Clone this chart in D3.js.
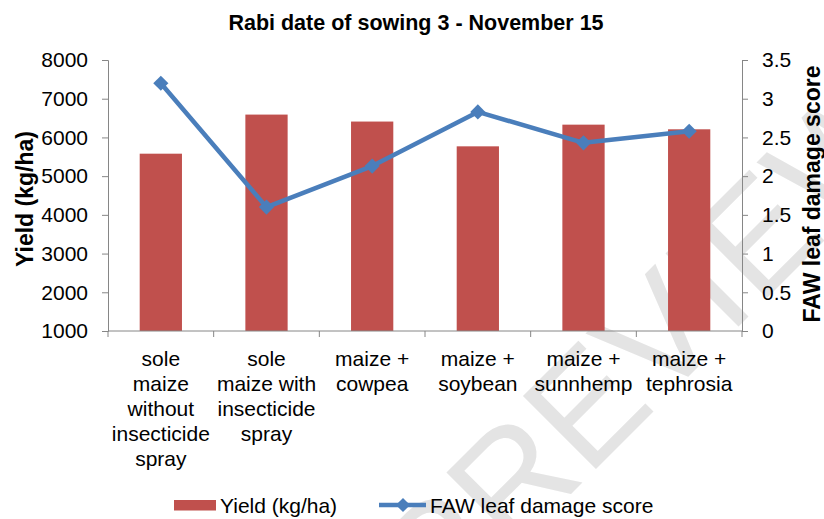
<!DOCTYPE html>
<html>
<head>
<meta charset="utf-8">
<script src="https://cdn.jsdelivr.net/npm/d3@7"></script>
<style>
  body { margin: 0; background: #fff; }
  text { font-family: "Liberation Sans", Arial, sans-serif; fill: #000; }
</style>
</head>
<body>
<div class="chart"></div>
<script>
// chart data
const categories = ["sole maize without insecticide spray", "sole maize with insecticide spray",
  "maize + cowpea", "maize + soybean", "maize + sunnhemp", "maize + tephrosia"];
const categoryLines = [
  ["sole", "maize", "without", "insecticide", "spray"],
  ["sole", "maize with", "insecticide", "spray"],
  ["maize +", "cowpea"],
  ["maize +", "soybean"],
  ["maize +", "sunnhemp"],
  ["maize +", "tephrosia"]
];
const yieldValues = [5580, 6590, 6410, 5770, 6330, 6210];
const damageValues = [3.2, 1.6, 2.13, 2.83, 2.43, 2.58];
const leftTicks = [1000, 2000, 3000, 4000, 5000, 6000, 7000, 8000];
const rightTicks = [0, 0.5, 1, 1.5, 2, 2.5, 3, 3.5];

const width = 824, height = 519;
const margin = {top: 60, right: 82, bottom: 188, left: 108};
const barColor = "#c0504d", lineColor = "#4a7ebb", axisColor = "#868686";

const svg = d3.select(".chart").append("svg")
  .attr("width", width)
  .attr("height", height);

// faint watermark behind everything
svg.append("text")
  .attr("transform", "translate(440,625) rotate(-45)")
  .attr("font-size", 150)
  .style("fill", "#e4e4e4")
  .text("PREVIEW");

const x = d3.scaleBand()
  .domain(categories)
  .range([margin.left, width - margin.right])
  .paddingInner(0.6)
  .paddingOuter(0.3);

const xOuter = d3.scaleBand()
  .domain(categories)
  .range([margin.left, width - margin.right]);

const yLeft = d3.scaleLinear()
  .domain([1000, 8000])
  .range([height - margin.bottom, margin.top]);

const yRight = d3.scaleLinear()
  .domain([0, 3.5])
  .range([height - margin.bottom, margin.top]);

// bars
svg.append("g").selectAll("rect")
  .data(yieldValues)
  .enter().append("rect")
  .attr("x", (d, i) => x(categories[i]))
  .attr("y", d => yLeft(d))
  .attr("width", x.bandwidth())
  .attr("height", d => yLeft(1000) - yLeft(d))
  .attr("fill", barColor);

// left axis
const gLeft = svg.append("g")
  .attr("transform", `translate(${margin.left},0)`)
  .call(d3.axisLeft(yLeft).tickValues(leftTicks).tickSize(6).tickPadding(14).tickFormat(d3.format("d")));

// right axis
const gRight = svg.append("g")
  .attr("transform", `translate(${width - margin.right},0)`)
  .call(d3.axisRight(yRight).tickValues(rightTicks).tickSize(6).tickPadding(14).tickFormat(d => d));

// bottom axis with ticks between categories
const gBottom = svg.append("g")
  .attr("transform", `translate(0,${height - margin.bottom})`);
gBottom.append("line")
  .attr("x1", margin.left).attr("x2", width - margin.right)
  .attr("stroke", axisColor);
gBottom.selectAll(".tk")
  .data(categories.concat(["end"]))
  .enter().append("line")
  .attr("class", "tk")
  .attr("x1", (d, i) => i < categories.length ? xOuter(d) : width - margin.right)
  .attr("x2", (d, i) => i < categories.length ? xOuter(d) : width - margin.right)
  .attr("y1", 0).attr("y2", 6)
  .attr("stroke", axisColor);

gBottom.selectAll(".cat")
  .data(categories)
  .enter().append("text")
  .attr("class", "cat")
  .attr("text-anchor", "middle")
  .attr("font-size", 21)
  .attr("transform", d => `translate(${xOuter(d) + xOuter.bandwidth() / 2},35)`)
  .each(function(d, i) {
    d3.select(this).selectAll("tspan")
      .data(categoryLines[i])
      .enter().append("tspan")
      .attr("x", 0)
      .attr("y", (t, j) => j * 25)
      .text(t => t);
  });

[gLeft, gRight].forEach(g => {
  g.select(".domain").attr("stroke", axisColor);
  g.selectAll(".tick line").attr("stroke", axisColor);
  g.selectAll(".tick text").attr("font-size", 21).style("font-family", "Liberation Sans, Arial, sans-serif");
});

// damage line
const cx = i => xOuter(categories[i]) + xOuter.bandwidth() / 2;
const line = d3.line()
  .x((d, i) => cx(i))
  .y(d => yRight(d));

svg.append("path")
  .datum(damageValues)
  .attr("d", line)
  .attr("fill", "none")
  .attr("stroke", lineColor)
  .attr("stroke-width", 4.5)
  .attr("stroke-linejoin", "round");

svg.append("g").selectAll("path")
  .data(damageValues)
  .enter().append("path")
  .attr("d", d3.symbol(d3.symbolSquare, 115))
  .attr("transform", (d, i) => `translate(${cx(i)},${yRight(d)}) rotate(45)`)
  .attr("fill", lineColor);

// titles
svg.append("text")
  .attr("x", 416).attr("y", 30)
  .attr("text-anchor", "middle")
  .attr("font-size", 21.5)
  .attr("font-weight", "bold")
  .text("Rabi date of sowing 3 - November 15");

svg.append("text")
  .attr("transform", `translate(33,199) rotate(-90)`)
  .attr("text-anchor", "middle")
  .attr("font-size", 23)
  .attr("font-weight", "bold")
  .text("Yield (kg/ha)");

svg.append("text")
  .attr("transform", `translate(820,194) rotate(-90)`)
  .attr("text-anchor", "middle")
  .attr("font-size", 23)
  .attr("font-weight", "bold")
  .text("FAW leaf damage score");

// legend
const legend = svg.append("g").attr("transform", "translate(0,505)");
legend.append("rect")
  .attr("x", 174).attr("y", -5)
  .attr("width", 42).attr("height", 10.5)
  .attr("fill", barColor);
legend.append("text")
  .attr("x", 220).attr("y", 8)
  .attr("font-size", 21)
  .text("Yield (kg/ha)");
legend.append("line")
  .attr("x1", 379).attr("x2", 426)
  .attr("stroke", lineColor).attr("stroke-width", 4.5);
legend.append("path")
  .attr("d", d3.symbol(d3.symbolSquare, 100))
  .attr("transform", "translate(403,0) rotate(45)")
  .attr("fill", lineColor);
legend.append("text")
  .attr("x", 430).attr("y", 8)
  .attr("font-size", 21)
  .text("FAW leaf damage score");
</script>
</body>
</html>
